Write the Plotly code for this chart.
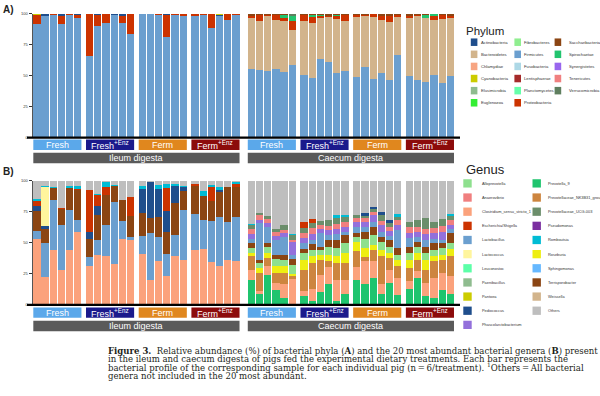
import plotly.graph_objects as go

W, H = 600, 396

# ---------------- data ----------------
treatments = ["Fresh", "Fresh<sup>+Enz</sup>", "Ferm", "Ferm<sup>+Enz</sup>"]
treatment_colors = ["#5ba8ea", "#1b1a8c", "#e0871e", "#8c0b0b"]
sites = ["Ileum digesta", "Caecum digesta"]

# Phylum relative abundance (%): 24 ileum pigs then 24 caecum pigs
# (Fresh x6, Fresh+Enz x6, Ferm x6, Ferm+Enz x6 in each site)
firmicutes = [92, 98, 99, 92, 98.7, 97, 66.2, 90, 92.5, 99.2, 92.5, 83.8,
              99.5, 99.6, 99, 81, 99, 98, 98, 99, 88.8, 98, 95, 99.2,
              55.6, 55, 53.5, 55.6, 52.9, 59, 50.8, 48, 63.6, 61.4, 52.4, 54,
              48.7, 57.4, 47, 52.4, 46.3, 67, 49.7, 46.8, 45, 50.3, 44.1, 49.7]
bacteroidetes = [0, 0, 0, 0, 0, 0, 0, 0, 0, 0, 0, 0,
                 0, 0, 0, 0, 0, 0, 0, 0, 0, 0, 0, 0,
                 40.7, 39.4, 44.7, 39.4, 41, 28, 43.4, 44.4, 33.2, 36.4, 43.6, 40.4,
                 48.6, 41.2, 50.6, 43, 47.3, 30.3, 47, 51.3, 51.3, 44.7, 52.1, 47.3]
proteobacteria = [7, 0.3, 0.5, 6.4, 0.8, 2.3, 33.5, 9, 7, 0.2, 5.6, 16,
                  0.2, 0.2, 0.5, 18.4, 0.6, 1.6, 1.7, 0.6, 10.9, 0.5, 4.7, 0.4,
                  1.9, 4.3, 0.5, 4.3, 2.7, 7.2, 4.5, 5.3, 1.3, 0.6, 2.1, 4.5,
                  1.9, 0.8, 2.1, 3.2, 4.5, 1.9, 1.9, 0.8, 0.7, 3.2, 2.7, 1.5]
actinobacteria = [0, 1.4, 0.3, 1.1, 0.3, 0.3, 0, 0.5, 0.2, 0.5, 1.5, 0,
                  0.1, 0.1, 0.3, 0.3, 0.2, 0.2, 0, 0.2, 0, 0.3, 0, 0.2,
                  0, 0, 0, 0, 0, 0, 0, 0, 0, 0, 0, 0,
                  0, 0, 0, 0, 0, 0, 0, 0, 0, 0, 0, 0]
spirochaetae = [0, 0, 0, 0, 0, 0, 0, 0, 0, 0, 0, 0,
                0, 0, 0, 0, 0, 0, 0, 0, 0, 0, 0, 0,
                0.3, 0, 0, 0, 2.4, 4, 0, 1.3, 1.3, 0, 1.3, 0,
                0, 0, 0, 0, 0, 0, 0, 0, 2.4, 1.3, 0, 0]
saccharibacteria = [0, 0, 0, 0, 0, 0, 0, 0, 0, 0, 0, 0,
                    0, 0, 0, 0, 0, 0, 0, 0, 0, 0, 0, 0,
                    1.5, 1.3, 1.3, 0.7, 1.0, 0, 1.3, 1, 0.6, 1.6, 0.6, 1.1,
                    0.8, 0.6, 0.3, 1.4, 1.9, 0.8, 1.4, 1.1, 0.6, 0.5, 1.1, 1.5]
verrucomicrobia = [0, 0, 0, 0, 0, 0, 0, 0, 0, 0, 0, 0,
                   0, 0, 0, 0, 0, 0, 0, 0, 0, 0, 0, 0,
                   0, 0, 0, 0, 0, 1.8, 0, 0, 0, 0, 0, 0,
                   0, 0, 0, 0, 0, 0, 0, 0, 0, 0, 0, 0]
cyanobacteria = [1, 0.3, 0.2, 0.5, 0.2, 0.4, 0.3, 0.5, 0.3, 0.1, 0.4, 0.2,
                 0.2, 0.1, 0.2, 0.3, 0.2, 0.2, 0.3, 0.2, 0.3, 1.2, 0.3, 0.2,
                 0, 0, 0, 0, 0, 0, 0, 0, 0, 0, 0, 0,
                 0, 0, 0, 0, 0, 0, 0, 0, 0, 0, 0, 0]

phylum_names = ["Actinobacteria", "Bacteroidetes", "Chlamydiae", "Cyanobacteria", "Elusimicrobia", "Euglenozoa",
                "Fibrobacteres", "Firmicutes", "Fusobacteria", "Lentisphaerae", "Planctomycetes", "Proteobacteria",
                "Saccharibacteria", "Spirochaetae", "Synergistetes", "Tenericutes", "Verrucomicrobia"]
phylum_colors = ["#1f4e8c", "#d2b48c", "#f7a582", "#cccc00", "#8fbc8f", "#33ee33",
                 "#90ee90", "#6b9fcf", "#add8e6", "#a52a2a", "#66ffaa", "#cc3300",
                 "#8b4513", "#22c46e", "#9966ee", "#f08080", "#5f7f5f"]

# Genus relative abundance (%): 24 ileum pigs then 24 caecum pigs
clostridium = [53.1, 22.5, 43.8, 27.9, 43.8, 58.4, 31.6, 40.3, 39.5, 33.2, 53.1, 52.3,
               40.8, 19.9, 35, 23.1, 39.5, 35.8, 43.8, 44.8, 34.2, 31.6, 36.3, 35,
               8.5, 2.5, 7.2, 5.3, 10.6, 20.7, 4, 9.3, 14, 14.1, 17.2, 11.9,
               10.6, 18.6, 13.3, 8, 10.6, 14, 6.6, 5.3, 10.6, 15.9, 13.8, 14.6]
lactobacillus = [6.6, 27.6, 40.3, 36.3, 32.4, 10.3, 6.9, 12, 24.7, 49.3, 14.3, 2.1,
                 14.6, 37.7, 19.4, 17.7, 16.7, 40.3, 29.7, 23.4, 33.4, 39.2, 30.5, 35.8,
                 3.4, 30, 12.7, 12, 14.6, 2.7, 4.8, 3.2, 10.6, 4, 4.8, 2.7,
                 4.8, 4, 4.5, 4, 3.2, 14.6, 6.6, 3.4, 5.8, 3.2, 2.7, 3.4]
terrisporobacter = [15.9, 11.4, 9.8, 13.3, 18, 23.9, 14.3, 19.9, 23.9, 13.3, 16.7, 17,
                    18.6, 12.7, 16.4, 18, 25.7, 15.4, 22.5, 19.1, 16.4, 19.9, 28.4, 23.9,
                    4, 2, 3.7, 3.4, 4, 5.3, 3.2, 4.8, 2.7, 5.3, 6.6, 6.6,
                    3.2, 6.1, 6.1, 4, 5.8, 5.3, 4.8, 4.5, 4.8, 5.3, 4, 8.5]
pediococcus = [3.7, 1.9, 0, 0, 0, 0, 6.1, 7.2, 0, 0, 0, 0,
               19.4, 28.4, 22.5, 16.7, 14, 3.2, 0, 0, 0, 1.9, 0, 0,
               0, 0, 0, 0, 0, 0, 0, 0, 0, 0, 0, 0,
               0, 2.1, 2.1, 2.7, 2.1, 0, 0, 0, 0, 0, 0, 0]
lactococcus = [0, 31.3, 0, 0, 0, 0, 0, 0, 0, 0, 0, 0,
               0, 0, 0, 0, 0, 0, 0, 0, 0, 0, 0, 0,
               0, 0, 0, 0, 0, 0, 0, 0, 0, 0, 0, 0,
               0, 0, 0, 0, 0, 0, 0, 0, 0, 0, 0, 0]
escherichia = [4.2, 0, 0, 0.8, 0, 0.8, 33.7, 8.8, 7.2, 0, 0, 15.3,
               0, 0, 0, 18.6, 0, 0, 1.4, 0, 10.6, 0, 0, 2.6,
               0, 0, 0, 0, 0, 0, 5.3, 3.2, 0, 0, 0, 0,
               0, 0, 0, 0, 0, 0, 0, 0, 0, 0, 0, 0]
romboutsia = [1.9, 1.3, 1.3, 0, 1.6, 2.6, 0, 1.3, 3.7, 0.5, 0, 0,
              2.6, 0, 3.4, 3.2, 1.4, 1.3, 0, 4.2, 2.2, 2.1, 0, 1.9,
              1.3, 0, 0, 0, 0, 1, 0, 0, 0, 0, 1.9, 1.6,
              0, 0, 0, 0, 0, 1.9, 0, 0, 0, 0, 0, 1.6]
prevotella_9 = [0, 0, 0, 0, 0, 0, 0, 0, 0, 0, 0, 0,
                0, 0, 0, 0, 0, 0, 0, 0, 0, 0, 0, 0,
                19.9, 8.5, 24.4, 11.9, 5.8, 0.5, 7.2, 3.2, 10.3, 16.4, 3.2, 8.5,
                19.9, 16.4, 21.8, 8.5, 17.8, 7.7, 12.5, 21.8, 7.2, 5.8, 11.9, 8.5]
nk3b31_group = [0, 0, 0, 0, 0, 0, 0, 0, 0, 0, 0, 0,
                0, 0, 0, 0, 0, 0, 0, 0, 0, 0, 0, 0,
                10.6, 14.6, 6.1, 8.5, 9.3, 2, 17.2, 21.2, 11.9, 4.5, 13.3, 13.3,
                12.5, 3.4, 9.3, 22.5, 9.3, 9.3, 10.6, 9.3, 10.6, 13.3, 10.6, 15.9]
roseburia = [0, 0, 0, 0, 0, 0, 0, 0, 0, 0, 0, 0,
             0, 0, 0, 0, 0, 0, 0, 0, 0, 0, 0, 0,
             2.7, 4, 4, 5.3, 5.8, 2, 8, 5.3, 4, 5.3, 5.3, 8,
             8, 7.2, 4, 5.3, 4, 5.3, 6.6, 5.3, 8, 4, 4, 5.8]
alloprevotella = [0, 0, 0, 0, 0, 0, 0, 0, 0, 0, 0, 0,
                  0, 0, 0, 0, 0, 0, 0, 0, 0, 0, 0, 0,
                  4, 4.5, 4.8, 5.8, 4.8, 6.6, 5.3, 5.3, 4, 6.6, 6.6, 8,
                  4, 7.2, 8, 6.6, 4.8, 4, 5.8, 4.8, 5.3, 5.3, 5.3, 4.8]
phascolarctobacterium = [0, 0, 0, 0, 0, 0, 0, 0, 0, 0, 0, 0,
                         0, 0, 0, 0, 0, 0, 0, 0, 0, 0, 0, 0,
                         4, 2, 3.2, 3.2, 2.7, 10.6, 4, 4.8, 4, 4, 4.5, 4,
                         4, 4, 5.3, 5.3, 4.2, 4, 4, 4.5, 4.8, 4.8, 6.6, 2.7]
anaerovibrio = [0, 0, 0, 0, 0, 0, 0, 0, 0, 0, 0, 0,
                0, 0, 0, 0, 0, 0, 0, 0, 0, 0, 0, 0,
                3.7, 4.5, 3.4, 3.4, 2.7, 1.5, 4.5, 4.5, 2.7, 3.2, 4, 4,
                2.7, 2.7, 2.7, 3.4, 3.2, 4, 5.3, 4, 3.7, 4, 4.5, 4]
ucg003 = [0, 0, 0, 0, 0, 0, 0, 0, 0, 0, 0, 0,
          0, 0, 0, 0, 0, 0, 0, 0, 0, 0, 0, 0,
          3.4, 1.5, 1.9, 2.6, 4, 4.5, 3.4, 4, 3.4, 4.8, 4.8, 3.4,
          2.7, 1.9, 1.9, 4.5, 3.2, 2.7, 4, 5.8, 8.8, 5.3, 6.1, 3.2]
others = [14.6, 4, 4.8, 21.7, 4.2, 4, 7.4, 10.5, 1, 3.7, 15.9, 13.3,
          4, 1.3, 3.3, 2.7, 2.7, 4, 2.6, 8.5, 3.2, 5.3, 4.8, 0.8,
          34.5, 25.9, 28.6, 38.6, 35.7, 42.6, 33.1, 31.2, 32.4, 31.8, 27.8, 28,
          27.6, 26.4, 21, 25.2, 31.8, 27.2, 33.2, 31.3, 30.4, 33.1, 30.5, 27]

genus_names = ["Alloprevotella", "Anaerovibrio", "Clostridium_sensu_stricto_1", "Escherichia/Shigella",
               "Lactobacillus", "Lactococcus", "Leuconostoc", "Paenibacillus", "Pantoea", "Pediococcus",
               "Phascolarctobacterium", "Prevotella_9", "Prevotellaceae_NK3B31_group", "Prevotellaceae_UCG-003",
               "Pseudomonas", "Romboutsia", "Roseburia", "Sphingomonas", "Terrisporobacter", "Weissella", "Others"]
genus_colors = ["#8ee08e", "#f07f7f", "#fba27c", "#cc3300",
                "#6b9fcf", "#fff59d", "#5cffa8", "#8fbc8f", "#cccc00", "#1f4e8c",
                "#9370db", "#1fc46e", "#cd853f", "#6b8e6b",
                "#7b2fa0", "#00bcd4", "#eeee11", "#66b8ff", "#8b4513", "#d2b48c", "#bebebe"]

# ---------------- helpers ----------------
def px_x(v):
    return v / W

def px_y(v):
    return 1 - v / H

GROUP_STEP = 6.45
SITE_STEP = 26.25
BAR_W = 0.89
x_pos = [s * SITE_STEP + g * GROUP_STEP + i for s in range(2) for g in range(4) for i in range(6)]

phylum_color = dict(zip(phylum_names, phylum_colors))
genus_color = dict(zip(genus_names, genus_colors))

fig = go.Figure()

phylum_stack = [("Firmicutes", firmicutes), ("Bacteroidetes", bacteroidetes),
                ("Proteobacteria", proteobacteria), ("Actinobacteria", actinobacteria),
                ("Spirochaetae", spirochaetae), ("Saccharibacteria", saccharibacteria),
                ("Verrucomicrobia", verrucomicrobia), ("Cyanobacteria", cyanobacteria)]
for name, vals in phylum_stack:
    fig.add_trace(go.Bar(x=x_pos, y=vals, width=BAR_W, name=name, showlegend=False,
                         marker=dict(color=phylum_color[name], line=dict(width=0)),
                         xaxis="x", yaxis="y"))

genus_values = {
    "Clostridium_sensu_stricto_1": clostridium, "Lactobacillus": lactobacillus,
    "Terrisporobacter": terrisporobacter, "Pediococcus": pediococcus, "Lactococcus": lactococcus,
    "Escherichia/Shigella": escherichia, "Romboutsia": romboutsia, "Prevotella_9": prevotella_9,
    "Prevotellaceae_NK3B31_group": nk3b31_group, "Roseburia": roseburia, "Alloprevotella": alloprevotella,
    "Phascolarctobacterium": phascolarctobacterium, "Anaerovibrio": anaerovibrio,
    "Prevotellaceae_UCG-003": ucg003, "Others": others,
}
ileum_order = ["Clostridium_sensu_stricto_1", "Lactobacillus", "Terrisporobacter", "Pediococcus",
               "Lactococcus", "Escherichia/Shigella", "Romboutsia", "Others"]
caecum_order = ["Prevotella_9", "Clostridium_sensu_stricto_1", "Prevotellaceae_NK3B31_group", "Roseburia",
                "Alloprevotella", "Terrisporobacter", "Lactobacillus", "Phascolarctobacterium", "Anaerovibrio",
                "Prevotellaceae_UCG-003", "Escherichia/Shigella", "Pediococcus", "Romboutsia", "Others"]
for s, order in enumerate([ileum_order, caecum_order]):
    sl = slice(s * 24, (s + 1) * 24)
    for name in order:
        fig.add_trace(go.Bar(x=x_pos[sl], y=genus_values[name][sl], width=BAR_W, name=name,
                             showlegend=False,
                             marker=dict(color=genus_color[name], line=dict(width=0)),
                             xaxis="x2", yaxis="y2"))

# ---------------- axes ----------------
unit = 8.17
first_center = 36.95
x_left_px, x_right_px = 32.5, 460
x_range = [(x_left_px - first_center) / unit, (x_right_px - first_center) / unit]
xdom = [px_x(x_left_px), px_x(x_right_px)]

panels = [  # (xaxis, yaxis, top px, bottom px)
    ("x", "y", 11, 136.3),
    ("x2", "y2", 180, 305.7),
]

axis_common_x = dict(range=x_range, domain=xdom, showgrid=False, zeroline=False,
                     showticklabels=False, ticks="", showline=False, fixedrange=True)
axis_common_y = dict(range=[0, 100], tickvals=[0, 25, 50, 75, 100], showgrid=False, zeroline=False,
                     showline=True, linecolor="#555555", linewidth=1, ticks="outside", ticklen=3,
                     tickcolor="#333333", tickwidth=1, fixedrange=True,
                     tickfont=dict(size=4, color="#333333", family="Liberation Sans, Arial"))

fig.update_layout(
    xaxis=dict(**axis_common_x, anchor="y"),
    yaxis=dict(**axis_common_y, anchor="x", domain=[px_y(136.3), px_y(11)]),
    xaxis2=dict(**axis_common_x, anchor="y2"),
    yaxis2=dict(**axis_common_y, anchor="x2", domain=[px_y(305.7), px_y(180)]),
)

shapes = []
annotations = []

# ---------------- group boxes ----------------
box_rows = [  # (xref, group box top/bottom px, site box top/bottom px)
    ("x", 138.3, 148.8, 151.6, 162.4),
    ("x2", 308.3, 318.8, 321.7, 332.4),
]
for xref, gy0, gy1, sy0, sy1 in box_rows:
    for s in range(2):
        for g in range(4):
            a = s * SITE_STEP + g * GROUP_STEP - BAR_W / 2
            b = s * SITE_STEP + g * GROUP_STEP + 5 + BAR_W / 2
            shapes.append(dict(type="rect", xref=xref, yref="paper", x0=a, x1=b,
                               y0=px_y(gy1), y1=px_y(gy0), fillcolor=treatment_colors[g],
                               line=dict(width=0), layer="above"))
            annotations.append(dict(xref=xref, yref="paper", x=(a + b) / 2, y=px_y((gy0 + gy1) / 2),
                                    text=treatments[g], showarrow=False, xanchor="center", yanchor="middle",
                                    font=dict(size=9, color="white", family="Liberation Sans, Arial")))
        a = s * SITE_STEP - BAR_W / 2
        b = s * SITE_STEP + 3 * GROUP_STEP + 5 + BAR_W / 2
        shapes.append(dict(type="rect", xref=xref, yref="paper", x0=a, x1=b,
                           y0=px_y(sy1), y1=px_y(sy0), fillcolor="#5a5a5a",
                           line=dict(width=0), layer="above"))
        annotations.append(dict(xref=xref, yref="paper", x=(a + b) / 2, y=px_y((sy0 + sy1) / 2),
                                text=sites[s], showarrow=False, xanchor="center", yanchor="middle",
                                font=dict(size=9, color="white", family="Liberation Sans, Arial")))

# baseline black lines
for _, _, top, bot in panels:
    shapes.append(dict(type="line", xref="paper", yref="paper", x0=px_x(27), x1=px_x(460),
                       y0=px_y(bot), y1=px_y(bot), line=dict(color="black", width=2.3), layer="above"))

# panel letters
for label, yy in [("A)", 6.5), ("B)", 171)]:
    annotations.append(dict(xref="paper", yref="paper", x=px_x(1), y=px_y(yy), text="<b>%s</b>" % label,
                            showarrow=False, xanchor="left", yanchor="middle",
                            font=dict(size=10, color="#222222", family="Liberation Sans, Arial")))

# ---------------- legends ----------------
annotations.append(dict(xref="paper", yref="paper", x=px_x(464), y=px_y(28), text="Phylum",
                        showarrow=False, xanchor="left", yanchor="middle",
                        font=dict(size=11.5, color="#222222", family="Liberation Sans, Arial")))
ph_cols = [(470.8, 478.5), (514.4, 521.8), (554.6, 567.0)]
for k, name in enumerate(phylum_names):
    c, r = divmod(k, 6)
    cy = 39.7 + r * 12.27
    sx, tx = ph_cols[c]
    shapes.append(dict(type="rect", xref="paper", yref="paper", x0=px_x(sx), x1=px_x(sx + 6.6),
                       y0=px_y(cy + 3.8), y1=px_y(cy - 3.8), fillcolor=phylum_colors[k], line=dict(width=0)))
    annotations.append(dict(xref="paper", yref="paper", x=px_x(tx), y=px_y(cy), text=name,
                            showarrow=False, xanchor="left", yanchor="middle",
                            font=dict(size=4.2, color="#333333", family="Liberation Sans, Arial")))

annotations.append(dict(xref="paper", yref="paper", x=px_x(463.5), y=px_y(169), text="Genus",
                        showarrow=False, xanchor="left", yanchor="middle",
                        font=dict(size=13, color="#222222", family="Liberation Sans, Arial")))
ge_cols = [(463.3, 479.5), (532.5, 546.2)]
for k, name in enumerate(genus_names):
    c, r = divmod(k, 11)
    cy = 182.7 + r * 14.33
    sx, tx = ge_cols[c]
    shapes.append(dict(type="rect", xref="paper", yref="paper", x0=px_x(sx), x1=px_x(sx + 8.4),
                       y0=px_y(cy + 4.2), y1=px_y(cy - 4.2), fillcolor=genus_colors[k], line=dict(width=0)))
    annotations.append(dict(xref="paper", yref="paper", x=px_x(tx), y=px_y(cy), text=name,
                            showarrow=False, xanchor="left", yanchor="middle",
                            font=dict(size=3.9, color="#333333", family="Liberation Sans, Arial")))

# ---------------- caption ----------------
caption_lines = [
    "<b>Figure 3.</b>\u00a0\u00a0Relative abundance (%) of bacterial phyla (<b>A</b>) and the 20 most abundant bacterial genera (<b>B</b>) present",
    "in the ileum and caecum digesta of pigs fed the experimental dietary treatments. Each bar represents the",
    "bacterial profile of the corresponding sample for each individual pig (n\u2009=\u20096/treatment). <sup>1</sup>Others\u2009=\u2009All bacterial",
    "genera not included in the 20 most abundant.",
]
for k, line in enumerate(caption_lines):
    annotations.append(dict(xref="paper", yref="paper", x=px_x(106), y=px_y(352 + k * 8.5), text=line,
                            showarrow=False, xanchor="left", yanchor="middle",
                            font=dict(size=8.55, color="#231f20", family="DejaVu Serif")))

fig.update_layout(
    width=W, height=H, autosize=False,
    margin=dict(l=0, r=0, t=0, b=0),
    paper_bgcolor="white", plot_bgcolor="white",
    barmode="stack", showlegend=False, hovermode=False,
    shapes=shapes, annotations=annotations,
)

fig.write_html("out.html", config={"displayModeBar": False, "staticPlot": True},
               post_script="document.body.style.margin='0px';document.body.style.padding='0px';")
